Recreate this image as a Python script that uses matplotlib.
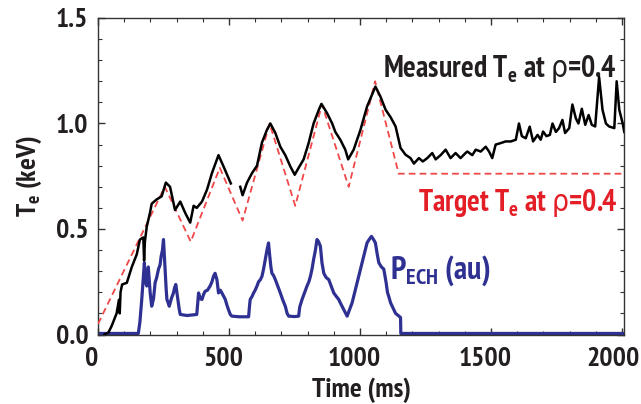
import numpy as np
import matplotlib
matplotlib.use("Agg")
import matplotlib.pyplot as plt
import matplotlib.font_manager as fm
from matplotlib.ticker import MultipleLocator
from matplotlib.transforms import ScaledTranslation


def _is_bold(w):
    if isinstance(w, str):
        return any(k in w.lower() for k in ('bold', 'black', 'heavy'))
    return w >= 600


# pick a condensed bold sans font if one is installed
cond = None
for f in fm.fontManager.ttflist:
    key = (f.name + ' ' + f.fname).lower()
    if 'mono' in key or 'cjk' in key:
        continue
    if ('serif' in key and 'sans' not in key):
        continue
    if ('narrow' in key or 'condensed' in key or
            str(f.stretch).lower() in ('condensed', 'semi-condensed')) and _is_bold(f.weight):
        if 'semicondensed' in key.replace('-', '').replace(' ', '') and cond is not None:
            continue
        cond = f
        if 'liberation' in key or 'narrow' in key:
            break

if cond is not None:
    FAM = cond.name
    plt.rcParams['font.stretch'] = cond.stretch
    FS = 20
    FA = 21.5
else:
    FAM = 'Liberation Sans'
    FS = 17
    FA = 17

plt.rcParams['font.family'] = [FAM, 'DejaVu Sans']
plt.rcParams['font.weight'] = 'bold'
plt.rcParams['axes.labelweight'] = 'bold'
plt.rcParams['mathtext.fontset'] = 'custom'
plt.rcParams['mathtext.rm'] = FAM + ':bold'
plt.rcParams['mathtext.bf'] = FAM + ':bold'
plt.rcParams['mathtext.it'] = 'DejaVu Sans:normal'
plt.rcParams['mathtext.sf'] = 'DejaVu Sans:normal'
plt.rcParams['mathtext.fallback'] = 'stixsans'

# ---- data ----
target_t = [0, 255, 354, 465, 552, 655, 753, 855, 957, 1058, 1148, 2008]
target_te = [0.05, 0.70, 0.44, 0.79, 0.54, 1.00, 0.61, 1.09, 0.70, 1.20, 0.762, 0.762]

meas_t = [25, 40, 52, 71, 80, 83, 86, 92, 110, 129, 148, 160, 173, 176, 179, 186,
          199, 205, 224, 243, 259, 275, 294, 314, 333, 352, 365, 377, 397, 416,
          435, 454, 460, 479, 501, 507, 525, 543, 552, 569, 588, 607, 626, 645,
          658, 677, 696, 715, 734, 751, 766, 785, 804, 823, 843, 853, 874, 894,
          906, 925, 944, 955, 976, 1002, 1027, 1047, 1059, 1078, 1098, 1117,
          1136, 1155, 1174, 1193, 1206, 1225, 1240, 1257, 1276, 1289, 1308,
          1327, 1346, 1365, 1384, 1403, 1410, 1429, 1442, 1461, 1480, 1493,
          1505, 1518, 1537, 1556, 1576, 1595, 1607, 1618, 1633, 1648, 1661,
          1678, 1690, 1699, 1712, 1725, 1735, 1748, 1760, 1773, 1783, 1799,
          1811, 1824, 1834, 1847, 1860, 1873, 1885, 1898, 1913, 1926, 1939,
          1951, 1971, 1980, 1990, 2003, 2009]
meas_te = [0.0, 0.01, 0.04, 0.10, 0.165, 0.10, 0.20, 0.237, 0.245, 0.32, 0.38,
           0.45, 0.46, 0.35, 0.44, 0.51, 0.58, 0.62, 0.64, 0.655, 0.72, 0.70,
           0.59, 0.63, 0.576, 0.53, 0.61, 0.60, 0.63, 0.686, 0.765, 0.83, 0.85,
           0.797, 0.733, 0.716, np.nan, 0.70, 0.66, 0.72, 0.765, 0.80, 0.91,
           0.97, 1.0, 0.955, 0.89, 0.85, 0.797, 0.757, 0.79, 0.83, 0.907, 1.0,
           1.065, 1.093, 1.05, 1.0, 0.96, 0.923, 0.876, 0.83, 0.876, 0.97, 1.08,
           1.14, 1.175, 1.128, 1.065, 1.03, 0.986, 0.884, 0.852, 0.836, 0.81,
           0.836, 0.82, 0.836, 0.86, 0.83, 0.85, 0.876, 0.836, 0.86, 0.836,
           0.86, 0.867, 0.85, 0.876, 0.867, 0.89, 0.867, 0.836, 0.90, 0.907,
           0.915, 0.915, 0.923, 1.0, 0.94, 0.93, 0.985, 0.915, 0.946, 0.923,
           0.962, 0.94, 0.946, 1.0, 0.96, 0.978, 1.017, 0.955, 0.978, 1.09,
           1.025, 1.0, 1.07, 0.994, 1.04, 0.994, 0.986, 1.22, 1.065, 1.0, 0.986,
           0.978, 1.2, 1.065, 1.0, 0.96]

pech_t = [0, 154, 160, 167, 172, 177, 181, 186, 192, 196, 199, 205, 212, 218,
          224, 231, 237, 241, 246, 250, 253, 256, 260, 263, 268, 272, 280, 288,
          292, 297, 301, 305, 310, 314, 340, 377, 381, 384, 390, 397, 403, 409,
          418, 428, 435, 441, 447, 454, 460, 467, 473, 480, 486, 492, 498, 505,
          511, 540, 575, 578, 581, 588, 594, 600, 607, 613, 620, 626, 632, 639,
          645, 651, 655, 660, 664, 670, 677, 686, 696, 705, 715, 722, 728, 750,
          766, 770, 779, 789, 798, 805, 811, 817, 823, 830, 836, 842, 849, 855,
          862, 871, 881, 890, 900, 910, 919, 925, 938, 945, 951, 958, 964, 970,
          980, 989, 998, 1008, 1018, 1027, 1035, 1044, 1052, 1059, 1066, 1072,
          1082, 1091, 1100, 1105, 1110, 1117, 1123, 1136, 1149, 1155, 1156, 2008]
pech = [0.005, 0.005, 0.06, 0.166, 0.25, 0.34, 0.25, 0.23, 0.32, 0.25, 0.20,
        0.134, 0.17, 0.245, 0.27, 0.31, 0.33, 0.37, 0.40, 0.45, 0.38, 0.31, 0.22,
        0.166, 0.15, 0.134, 0.17, 0.197, 0.22, 0.237, 0.20, 0.166, 0.12, 0.095,
        0.09, 0.095, 0.15, 0.197, 0.17, 0.166, 0.19, 0.205, 0.21, 0.23, 0.25,
        0.276, 0.29, 0.26, 0.197, 0.21, 0.197, 0.18, 0.166, 0.14, 0.118, 0.095,
        0.087, 0.084, 0.084, 0.13, 0.166, 0.18, 0.197, 0.21, 0.23, 0.25, 0.26,
        0.276, 0.31, 0.36, 0.40, 0.434, 0.38, 0.32, 0.29, 0.28, 0.26, 0.23,
        0.197, 0.165, 0.134, 0.10, 0.087, 0.085, 0.087, 0.13, 0.166, 0.20, 0.23,
        0.25, 0.276, 0.31, 0.355, 0.40, 0.45, 0.44, 0.418, 0.34, 0.29, 0.27,
        0.26, 0.23, 0.197, 0.18, 0.166, 0.15, 0.118, 0.10, 0.087, 0.11, 0.13,
        0.15, 0.20, 0.245, 0.29, 0.34, 0.39, 0.434, 0.45, 0.465, 0.45, 0.434,
        0.38, 0.34, 0.32, 0.31, 0.245, 0.20, 0.18, 0.15, 0.134, 0.10, 0.087,
        0.08, 0.005, 0.005]

x_ticks = [0, 500, 1000, 1500, 2000]
y_ticks = [0.0, 0.5, 1.0, 1.5]

# ---- figure ----
fig = plt.figure(figsize=(6.41, 4.04), dpi=100)
ax = fig.add_axes([98/641, 1 - 334.5/404, (624 - 98)/641, (334.5 - 18)/404])

RED = '#f04848'
BLUE = '#2e3192'
TXT = '#231f20'

ax.plot(pech_t, pech, color=BLUE, lw=2.3, zorder=2)
ax.plot(target_t, target_te, color=RED, lw=1.3, dashes=(3.7, 2.3), zorder=3)
ax.plot(meas_t, meas_te, color='black', lw=1.8, zorder=4)

ax.set_xlim(0, 2008)
ax.set_ylim(0, 1.5)
ax.set_xticks(x_ticks)
ax.set_yticks(y_ticks)
ax.set_yticklabels([f"{v:.1f}" for v in y_ticks])
ax.xaxis.set_minor_locator(MultipleLocator(100))
ax.yaxis.set_minor_locator(MultipleLocator(0.1))
ax.tick_params(which='both', direction='in', top=True, right=True,
               colors='#333333', labelcolor=TXT, labelsize=FS)
ax.tick_params(which='major', length=5, width=1)
ax.tick_params(which='minor', length=3, width=0.8)
ax.tick_params(axis='x', pad=9)
ax.tick_params(axis='y', pad=7)
for sp in ax.spines.values():
    sp.set_color('#333333')
    sp.set_linewidth(1.0)

xlabs = ax.get_xticklabels()
for i, lab in enumerate(xlabs):
    dx = -9 if i == len(xlabs) - 1 else -6
    lab.set_transform(lab.get_transform() +
                      ScaledTranslation(dx/100, 0, fig.dpi_scale_trans))

ax.set_xlabel('Time (ms)', fontsize=FS, color=TXT, labelpad=5)
ax.set_ylabel(r'T$_\mathrm{e}$ (keV)', fontsize=FS, color=TXT, labelpad=8)

ax.text(1979, 1.221, r'Measured T$_\mathrm{e}$ at $\rho$=0.4', ha='right',
        va='baseline', fontsize=FA, color=TXT)
ax.text(1985, 0.587, r'Target T$_\mathrm{e}$ at $\rho$=0.4', ha='right',
        va='baseline', fontsize=FA, color='#e41e26')
ax.text(1115, 0.262, r'P$_\mathrm{ECH}$ (au)', ha='left',
        va='baseline', fontsize=FA + 1.5, color=BLUE)

fig.savefig('out.png', dpi=100)
